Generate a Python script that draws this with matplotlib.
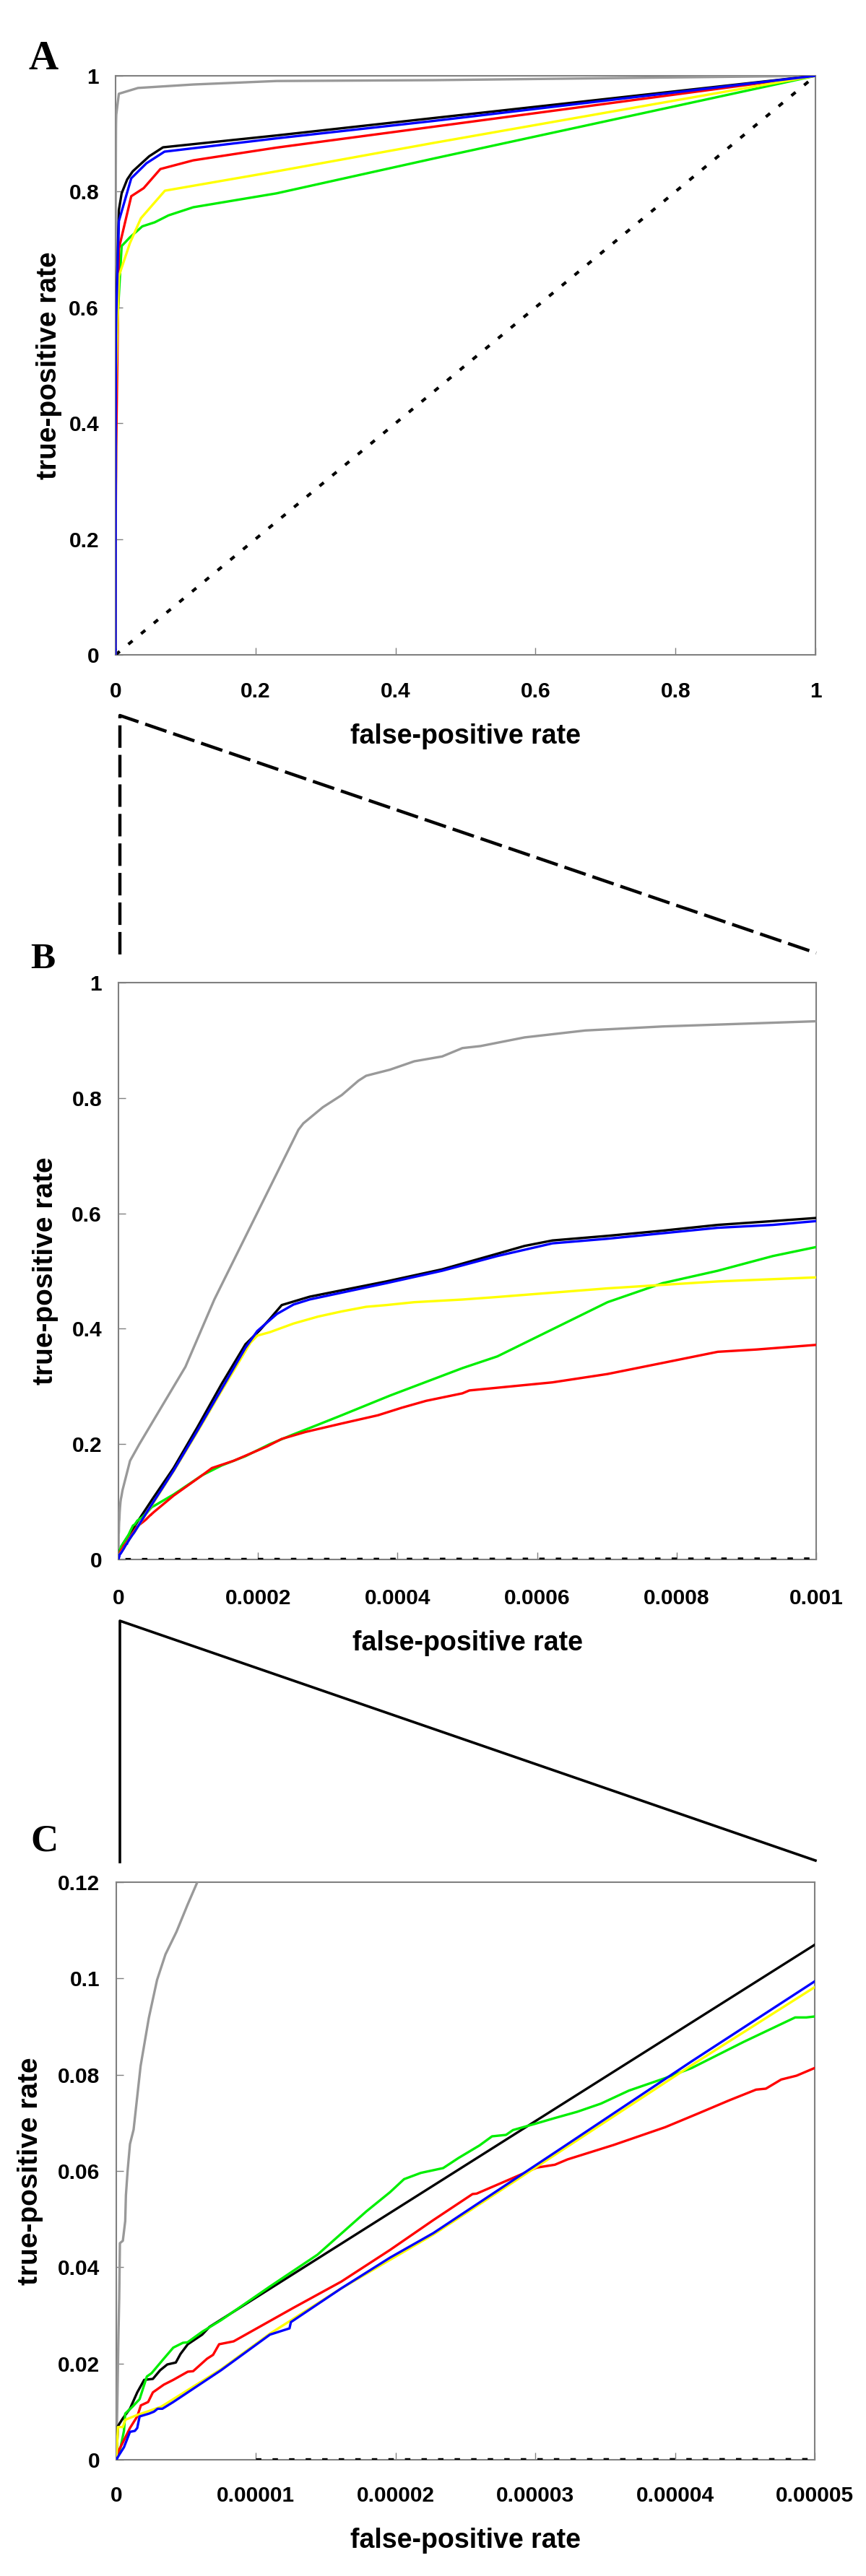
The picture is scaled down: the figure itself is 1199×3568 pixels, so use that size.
import matplotlib
matplotlib.use('Agg')
import matplotlib.pyplot as plt
from matplotlib.lines import Line2D

plt.rcParams['font.family'] = ['Liberation Sans', 'DejaVu Sans']
plt.rcParams['font.weight'] = 'bold'

# ---------------- data (false-positive rate, true-positive rate) ----------------
fpr_gray = [0, 8.6e-8, 1.55e-7, 2.1e-7, 2.6e-7, 4.7e-7, 6.4e-7, 6.9e-7, 8.1e-7, 9.8e-7, 1.24e-6,
            1.74e-6, 2.33e-6, 2.92e-6, 3.52e-6, 4.31e-6, 5.1e-6, 5.8e-6,
            1.66e-5, 3.0e-5, 6.1e-5, 9.6e-5, 1.374e-4, 2.58e-4, 2.65e-4, 2.93e-4, 3.2e-4, 3.44e-4,
            3.55e-4, 3.89e-4, 4.24e-4, 4.64e-4, 4.93e-4, 5.19e-4, 5.82e-4, 6.69e-4, 7.8e-4, 1e-3,
            4.7e-3, 3.2e-2, 0.111, 0.23, 0.454, 1.0]
tpr_gray = [0, 0.0136, 0.026, 0.0336, 0.045, 0.0455, 0.0496, 0.055, 0.060, 0.0656, 0.0686,
            0.0818, 0.0918, 0.0997, 0.105, 0.1097, 0.1153, 0.12,
            0.171, 0.200, 0.263, 0.334, 0.4506, 0.745, 0.756, 0.784, 0.805, 0.830,
            0.8385, 0.849, 0.8636, 0.872, 0.8865, 0.89, 0.905, 0.917, 0.924, 0.933,
            0.969, 0.979, 0.985, 0.991, 0.9925, 1.0]

fpr_black = [0, 1.2e-7, 4.7e-7, 9.8e-7, 1.5e-6, 2.0e-6, 2.62e-6, 3.14e-6, 3.65e-6, 4.26e-6, 4.6e-6,
             5.12e-6, 6.15e-6, 6.67e-6, 5.0e-5,
             7.9e-5, 1.13e-4, 1.48e-4, 1.82e-4, 2.03e-4, 2.17e-4, 2.34e-4, 2.74e-4, 3.05e-4, 3.84e-4,
             4.64e-4, 5.43e-4, 5.82e-4, 6.22e-4, 7.01e-4, 7.8e-4, 8.59e-4, 9.38e-4, 1e-3,
             4.7e-3, 8.7e-3, 1.66e-2, 2.45e-2, 4.8e-2, 6.78e-2, 0.23, 0.454, 1.0]
tpr_black = [0, 0.007, 0.0086, 0.0106, 0.014, 0.0166, 0.0168, 0.0186, 0.0198, 0.0202, 0.022,
             0.024, 0.026, 0.0276, 0.107,
             0.1585, 0.229, 0.3045, 0.373, 0.398, 0.417, 0.441, 0.4555, 0.463, 0.482,
             0.503, 0.530, 0.5435, 0.553, 0.561, 0.570, 0.580, 0.5866, 0.592,
             0.768, 0.797, 0.821, 0.835, 0.861, 0.8765, 0.897, 0.927, 1.0]

fpr_green = [0, 3e-7, 5.5e-7, 6.4e-7, 1.15e-6, 1.67e-6, 2.19e-6, 2.53e-6, 3.4e-6, 4.08e-6, 4.77e-6,
             5.1e-6, 6.15e-6, 7.5e-6, 1.1e-5, 1.44e-5, 1.79e-5, 1.96e-5, 2.06e-5, 2.18e-5, 2.34e-5,
             2.45e-5, 2.6e-5, 2.69e-5, 2.79e-5, 2.84e-5, 3.01e-5, 3.14e-5, 3.3e-5, 3.47e-5, 3.67e-5,
             3.93e-5, 4.12e-5, 4.49e-5, 4.86e-5, 4.94e-5, 5e-5,
             7.9e-5, 1.2e-4, 1.48e-4, 1.82e-4, 2.17e-4, 2.51e-4, 2.86e-4, 3.2e-4, 3.89e-4, 4.93e-4,
             5.43e-4, 7.01e-4, 7.8e-4, 8.59e-4, 9.38e-4, 1e-3,
             8.7e-3, 2.05e-2, 3.82e-2, 5.6e-2, 7.57e-2, 0.111, 0.23, 0.454, 1.0]
tpr_green = [0, 0.0025, 0.006, 0.0096, 0.011, 0.0126, 0.0173, 0.018, 0.021, 0.0233, 0.0243,
             0.0244, 0.0266, 0.029, 0.036, 0.0426, 0.0516, 0.0556, 0.0583, 0.0596, 0.0606,
             0.0627, 0.0653, 0.0672, 0.0675, 0.0685, 0.0699, 0.071, 0.0723, 0.074, 0.0767,
             0.0793, 0.0814, 0.0868, 0.0919, 0.0919, 0.0921,
             0.1126, 0.146, 0.163, 0.179, 0.200, 0.217, 0.2336, 0.25, 0.284, 0.3317,
             0.352, 0.446, 0.479, 0.5005, 0.526, 0.5416,
             0.706, 0.721, 0.740, 0.747, 0.759, 0.773, 0.797, 0.857, 1.0]

fpr_red = [0, 1.2e-7, 4.7e-7, 9.8e-7, 1.5e-6, 1.76e-6, 2.28e-6, 2.62e-6, 3.4e-6, 4.08e-6, 5.12e-6,
           5.5e-6, 6.5e-6, 6.93e-6, 7.36e-6, 7.88e-6, 8.4e-6, 9.26e-6, 1.27e-5, 1.61e-5, 1.96e-5,
           2.27e-5, 2.55e-5, 2.58e-5, 2.82e-5, 3.01e-5, 3.14e-5, 3.23e-5, 3.56e-5, 3.93e-5, 4.17e-5,
           4.39e-5, 4.58e-5, 4.65e-5, 4.76e-5, 4.87e-5, 5e-5,
           7.9e-5, 1.2e-4, 1.34e-4, 1.65e-4, 2.13e-4, 2.34e-4, 2.68e-4, 3.2e-4, 3.72e-4, 4.06e-4,
           4.41e-4, 4.93e-4, 5.03e-4, 6.22e-4, 7.01e-4, 7.8e-4, 8.59e-4, 9.15e-4, 1e-3,
           4.7e-3, 2.24e-2, 4.02e-2, 6.4e-2, 0.111, 0.23, 0.454, 1.0]
tpr_red = [0, 0.0016, 0.0036, 0.0066, 0.009, 0.0113, 0.012, 0.014, 0.0156, 0.0166, 0.0183,
           0.0184, 0.021, 0.0218, 0.024, 0.0243, 0.0246, 0.026, 0.0316, 0.037, 0.0436,
           0.0498, 0.0552, 0.0553, 0.0583, 0.0607, 0.0613, 0.0624, 0.0654, 0.0691, 0.072,
           0.0747, 0.0769, 0.0771, 0.079, 0.0798, 0.0814,
           0.1106, 0.146, 0.1585, 0.171, 0.196, 0.209, 0.221, 0.2357, 0.250, 0.263,
           0.275, 0.288, 0.293, 0.307, 0.3215, 0.3407, 0.36, 0.364, 0.372,
           0.7015, 0.792, 0.806, 0.839, 0.854, 0.876, 0.912, 1.0]

fpr_yellow = [0, 1.2e-7, 4.7e-7, 6.4e-7, 1.5e-6, 3.2e-6, 7.5e-6, 1.1e-5, 1.61e-5, 2.27e-5, 3.19e-5,
              4.12e-5, 5e-5,
              7.9e-5, 1.13e-4, 1.48e-4, 1.89e-4, 1.99e-4, 2.17e-4, 2.51e-4, 2.86e-4, 3.2e-4, 3.55e-4,
              3.84e-4, 4.24e-4, 4.93e-4, 5.43e-4, 7.01e-4, 8.59e-4, 1e-3,
              4.7e-3, 2.05e-2, 3.62e-2, 7.05e-2, 0.23, 0.454, 1.0]
tpr_yellow = [0, 0.0068, 0.0068, 0.0083, 0.0093, 0.011, 0.0188, 0.0262, 0.0356, 0.0468, 0.0643,
              0.082, 0.0982,
              0.153, 0.221, 0.293, 0.3755, 0.388, 0.394, 0.409, 0.421, 0.43, 0.438,
              0.441, 0.446, 0.4506, 0.455, 0.47, 0.482, 0.489,
              0.654, 0.711, 0.754, 0.8016, 0.835, 0.884, 1.0]

fpr_blue = [0, 2e-7, 5.5e-7, 9.8e-7, 1.33e-6, 1.5e-6, 1.67e-6, 2.36e-6, 2.7e-6, 2.96e-6, 3.3e-6,
            4.08e-6, 7.5e-6, 1.1e-5, 1.24e-5, 1.25e-5, 1.61e-5, 1.96e-5, 2.27e-5, 3.19e-5, 4.12e-5, 5e-5,
            7.9e-5, 1.13e-4, 1.48e-4, 1.82e-4, 1.99e-4, 2.27e-4, 2.51e-4, 2.74e-4, 3.84e-4, 4.64e-4,
            5.43e-4, 6.22e-4, 7.01e-4, 7.8e-4, 8.59e-4, 9.38e-4, 1e-3,
            4.7e-3, 2.24e-2, 4.42e-2, 6.99e-2, 0.23, 0.454, 1.0]
tpr_blue = [0, 0.001, 0.0026, 0.0058, 0.006, 0.0066, 0.009, 0.0096, 0.010, 0.0106, 0.0106,
            0.012, 0.0186, 0.026, 0.0273, 0.0286, 0.0356, 0.042, 0.0471, 0.0648, 0.0828, 0.0994,
            0.154, 0.223, 0.296, 0.367, 0.396, 0.4255, 0.442, 0.4507, 0.479, 0.5005,
            0.526, 0.548, 0.556, 0.5655, 0.575, 0.58, 0.5866,
            0.749, 0.823, 0.849, 0.869, 0.892, 0.922, 1.0]

fpr_random = [1e-5, 1.0]
tpr_random = [1e-5, 1.0]

xticks_A = [0, 0.2, 0.4, 0.6, 0.8, 1.0]
xticklabels_A = ['0', '0.2', '0.4', '0.6', '0.8', '1']
yticks_A = [0, 0.2, 0.4, 0.6, 0.8, 1.0]
yticklabels_A = ['0', '0.2', '0.4', '0.6', '0.8', '1']
xticks_B = [0, 0.0002, 0.0004, 0.0006, 0.0008, 0.001]
xticklabels_B = ['0', '0.0002', '0.0004', '0.0006', '0.0008', '0.001']
yticks_B = [0, 0.2, 0.4, 0.6, 0.8, 1.0]
yticklabels_B = ['0', '0.2', '0.4', '0.6', '0.8', '1']
xticks_C = [0, 0.00001, 0.00002, 0.00003, 0.00004, 0.00005]
xticklabels_C = ['0', '0.00001', '0.00002', '0.00003', '0.00004', '0.00005']
yticks_C = [0, 0.02, 0.04, 0.06, 0.08, 0.10, 0.12]
yticklabels_C = ['0', '0.02', '0.04', '0.06', '0.08', '0.1', '0.12']

# ---------------- figure ----------------
W, H = 1199, 3568
fig = plt.figure(figsize=(W / 100, H / 100), dpi=100)


def rect(l, t, r, b):
    return [l / W, 1 - b / H, (r - l) / W, (b - t) / H]


series = [
    (fpr_gray, tpr_gray, '#999999'),
    (fpr_black, tpr_black, '#000000'),
    (fpr_green, tpr_green, '#00ee00'),
    (fpr_red, tpr_red, '#ff0000'),
    (fpr_yellow, tpr_yellow, '#ffff00'),
    (fpr_blue, tpr_blue, '#0000ff'),
]

panels = [
    dict(rect=rect(160, 105, 1129, 907), xlim=(0, 1), ylim=(0, 1),
         xt=xticks_A, xtl=xticklabels_A, yt=yticks_A, ytl=yticklabels_A,
         xpad=27, xlab_y=-0.141, ylab_x=-0.095,
         letter='A', lxy=(60, 96), lsize=41),
    dict(rect=rect(164, 1361, 1130, 2160), xlim=(0, 0.001), ylim=(0, 1),
         xt=xticks_B, xtl=xticklabels_B, yt=yticks_B, ytl=yticklabels_B,
         xpad=29, xlab_y=-0.145, ylab_x=-0.1046,
         letter='B', lxy=(59, 1341), lsize=37),
    dict(rect=rect(161, 2607, 1128, 3407), xlim=(0, 0.00005), ylim=(0, 0.12),
         xt=xticks_C, xtl=xticklabels_C, yt=yticks_C, ytl=yticklabels_C,
         xpad=26, xlab_y=-0.14, ylab_x=-0.123,
         letter='C', lxy=(61, 2563), lsize=38),
]

for p in panels:
    ax = fig.add_axes(p['rect'])
    ax.plot(fpr_random, tpr_random, color='black', lw=3.0,
            linestyle=(0, (1.8, 3.7)), dash_capstyle='butt', zorder=2.7)
    for fx, ty, c in series:
        ax.plot(fx, ty, color=c, lw=2.4, solid_joinstyle='round', zorder=3)
    ax.set_xlim(*p['xlim'])
    ax.set_ylim(*p['ylim'])
    ax.set_xticks(p['xt'])
    ax.set_xticklabels(p['xtl'])
    ax.set_yticks(p['yt'])
    ax.set_yticklabels(p['ytl'])
    for s in ax.spines.values():
        s.set_color('#808080')
        s.set_linewidth(1.5)
    ax.tick_params(axis='both', direction='in', length=7, width=1, color='#808080',
                   labelsize=21.5)
    ax.tick_params(axis='x', pad=p['xpad'])
    ax.tick_params(axis='y', pad=16.5)
    ax.set_xlabel('false-positive rate', fontsize=27, fontweight='bold', va='center')
    ax.xaxis.set_label_coords(0.5, p['xlab_y'])
    ax.set_ylabel('true-positive rate', fontsize=28, fontweight='bold', va='center')
    ax.yaxis.set_label_coords(p['ylab_x'], 0.5)
    lx, ly = p['lxy']
    fig.text(lx / W, 1 - ly / H, p['letter'], family=['Liberation Serif', 'DejaVu Serif'],
             weight='bold', size=p['lsize'], ha='center', va='baseline')


def fig_line(xs, ys, **kw):
    fig.add_artist(Line2D([x / W for x in xs], [1 - y / H for y in ys],
                          transform=fig.transFigure, **kw))


# zoom connectors
fig_line([166, 166, 1130], [1322, 991, 1320], color='black', lw=3.2,
         linestyle=(0, (7, 2.2)), dash_capstyle='butt')
fig_line([166, 166, 1129], [2579, 2245, 2577], color='black', lw=2.6)

fig.savefig('out.png', dpi=100)
